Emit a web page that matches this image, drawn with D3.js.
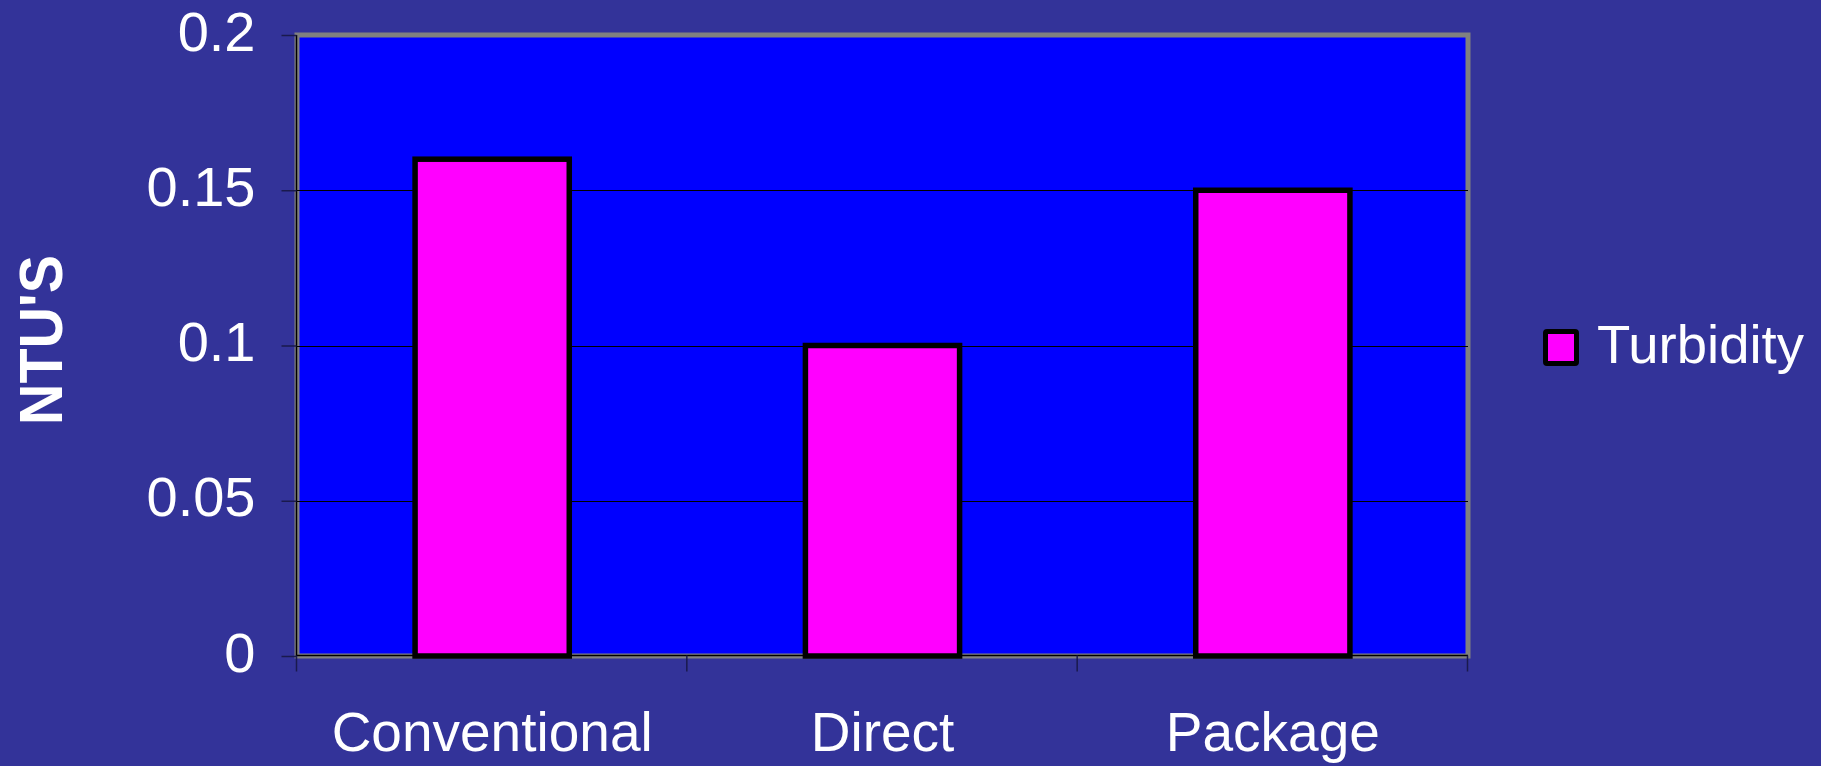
<!DOCTYPE html>
<html><head><meta charset="utf-8">
<script src="https://cdn.jsdelivr.net/npm/d3@7"></script>
<style>html,body{margin:0;padding:0;background:#333399;}svg{display:block;}</style>
</head><body>
<svg id="c" width="1821" height="766"></svg>
<script>
const categories = ["Conventional", "Direct", "Package"];
const turbidity = [0.16, 0.10, 0.15];
const yTicks = [0, 0.05, 0.1, 0.15, 0.2];
const yTickLabels = ["0", "0.05", "0.1", "0.15", "0.2"];
const seriesName = "Turbidity";
const yTitle = "NTU'S";

const svg = d3.select("#c");
const font = "'Liberation Sans', Arial, sans-serif";
const L = 297, R = 1468, T = 35, B = 656;

const x = d3.scaleBand().domain(categories).range([L, R]).paddingInner(0).paddingOuter(0);
const y = d3.scaleLinear().domain([0, 0.2]).range([B, T]);

// plot area
svg.append("rect").attr("x", L).attr("y", T).attr("width", R - L).attr("height", B - T)
  .attr("fill", "#0000ff").attr("stroke", "#808080").attr("stroke-width", 5);

// gridlines
svg.append("g").selectAll("line").data(yTicks.filter(d => d > 0 && d < 0.2)).join("line")
  .attr("x1", L).attr("x2", R).attr("y1", d => Math.round(y(d)) + 0.5).attr("y2", d => Math.round(y(d)) + 0.5)
  .attr("stroke", "#000").attr("stroke-width", 1);

// bars
const bw = x.bandwidth() * 0.395;
svg.append("g").selectAll("rect").data(categories).join("rect")
  .attr("x", (d) => x(d) + x.bandwidth() / 2 - bw / 2)
  .attr("y", (d, i) => y(turbidity[i]))
  .attr("width", bw)
  .attr("height", (d, i) => y(0) - y(turbidity[i]))
  .attr("fill", "#ff00ff").attr("stroke", "#000").attr("stroke-width", 5.5);

// y axis
const yAxis = d3.axisLeft(y).tickValues(yTicks).tickSize(15).tickPadding(0)
  .tickFormat((d, i) => yTickLabels[i]);
const gy = svg.append("g").attr("transform", `translate(${L - 0.5},0)`).call(yAxis);
gy.select(".domain").attr("stroke", "#000").attr("stroke-width", 1.5).attr("d", `M0,${T}V${B}`);
gy.selectAll(".tick line").attr("stroke", "#1a1a4d").attr("stroke-width", 1.5);
gy.selectAll(".tick text").attr("fill", "#fff").attr("font-family", font).attr("font-size", 56)
  .attr("x", -41).attr("dy", "0.27em");

// x axis
const xAxis = d3.axisBottom(x).tickSize(0).tickPadding(0);
const gx = svg.append("g").attr("transform", `translate(0,${B - 0.5})`).call(xAxis);
gx.select(".domain").attr("stroke", "#000").attr("stroke-width", 1.5).attr("d", `M${L - 1},0H${R}`);
gx.selectAll(".tick text").attr("fill", "#fff").attr("font-family", font).attr("font-size", 55)
  .attr("y", 95).attr("dy", 0);
// boundary ticks between categories
const bounds = categories.map(c => x(c)).concat([R]);
gx.append("g").selectAll("line").data(bounds).join("line")
  .attr("x1", d => d - 0.5).attr("x2", d => d - 0.5).attr("y1", 0).attr("y2", 16)
  .attr("stroke", "#1a1a4d").attr("stroke-width", 1.5);

// y title
svg.append("text").attr("transform", "translate(62,340) rotate(-90)")
  .attr("text-anchor", "middle").attr("fill", "#fff").attr("font-family", font)
  .attr("font-weight", "bold").attr("font-size", 62)
  .attr("textLength", 170).attr("lengthAdjust", "spacingAndGlyphs")
  .text(yTitle);

// legend
const lg = svg.append("g");
lg.append("rect").attr("x", 1545.5).attr("y", 331.5).attr("width", 31).attr("height", 32)
  .attr("fill", "#ff00ff").attr("stroke", "#000").attr("stroke-width", 5).attr("rx", 1.5);
lg.append("text").attr("x", 1597).attr("y", 363).attr("fill", "#fff")
  .attr("font-family", font).attr("font-size", 54.5).text(seriesName);
</script>
</body></html>
